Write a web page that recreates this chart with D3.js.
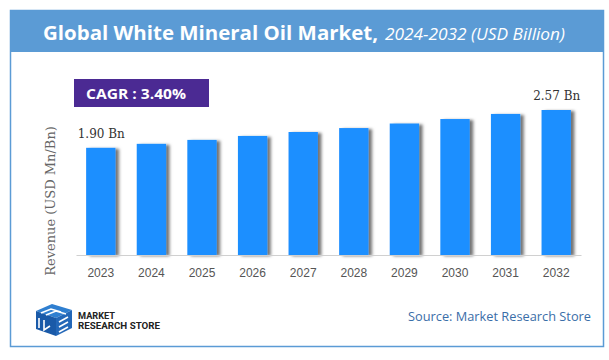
<!DOCTYPE html>
<html><head><meta charset="utf-8">
<script src="https://cdn.jsdelivr.net/npm/d3@7"></script>
<style>html,body{margin:0;padding:0;background:#fff;}svg{display:block;}</style>
</head><body>
<script>
const years = ["2023","2024","2025","2026","2027","2028","2029","2030","2031","2032"];
const values = [1.90, 1.97, 2.04, 2.11, 2.18, 2.25, 2.33, 2.41, 2.50, 2.57];
const valueLabels = ["1.90 Bn", null, null, null, null, null, null, null, null, "2.57 Bn"];
const titleMain = "Global White Mineral Oil Market,";
const titleSub = "2024-2032 (USD Billion)";
const cagrText = "CAGR : 3.40%";
const yAxisTitle = "Revenue (USD Mn/Bn)";
const sourceText = "Source: Market Research Store";

const W = 609, H = 360;
const svg = d3.select("body").append("svg").attr("width", W).attr("height", H);
const defs = svg.append("defs");
const f = defs.append("filter").attr("id","sh").attr("x","-20%").attr("y","-10%").attr("width","160%").attr("height","130%");
f.append("feDropShadow").attr("dx",3.5).attr("dy",1).attr("stdDeviation",1.6).attr("flood-color","#000").attr("flood-opacity",0.55);
const g = defs.append("linearGradient").attr("id","dash");
g.append("stop").attr("offset","0%").attr("stop-color","#f7c3a0");
g.append("stop").attr("offset","100%").attr("stop-color","#ef7d3c");

// frame
svg.append("rect").attr("x",10.5).attr("y",10.5).attr("width",593).attr("height",336)
  .attr("fill","#fff").attr("stroke","#5b9bd5").attr("stroke-width",1.5);
svg.append("rect").attr("x",10).attr("y",10).attr("width",594).attr("height",42).attr("fill","#5b9bd5");

const t = svg.append("text").attr("x",43).attr("y",40).attr("fill","#fff");
t.append("tspan").attr("font-family","'Open Sans'").attr("font-weight","bold").attr("font-size",20)
  .attr("textLength",335).attr("lengthAdjust","spacingAndGlyphs").text(titleMain);
t.append("tspan").attr("x",385).attr("font-family","'Open Sans'").attr("font-style","italic").attr("font-size",17)
  .attr("textLength",180).attr("lengthAdjust","spacingAndGlyphs").text(titleSub);

svg.append("line").attr("x1",40).attr("x2",578).attr("y1",59.5).attr("y2",59.5)
  .attr("stroke","url(#dash)").attr("stroke-width",1.2).attr("stroke-dasharray","4,2.5");

// CAGR box
svg.append("rect").attr("x",74).attr("y",79).attr("width",135).attr("height",28).attr("fill","#4b2a93");
svg.append("text").attr("x",86).attr("y",99).attr("fill","#fff").attr("font-family","'Open Sans'")
  .attr("font-weight","bold").attr("font-size",15).attr("textLength",100).attr("lengthAdjust","spacingAndGlyphs").text(cagrText);

// scales
const x = d3.scaleBand().domain(years).range([76,581]).paddingInner(0.42).paddingOuter(0.2);
const y = d3.scaleLinear().domain([0, 2.57]).range([255,110]);

const rows = years.map((yr,i)=>({year:yr, value:values[i], label:valueLabels[i]}));

svg.append("g").selectAll("rect").data(rows).join("rect")
  .attr("x",d=>x(d.year)).attr("width",x.bandwidth())
  .attr("y",d=>y(d.value)).attr("height",d=>y(0)-y(d.value))
  .attr("fill","#1e8fff").attr("filter","url(#sh)");

// axis
const ax = svg.append("g").attr("transform",`translate(0,${y(0)})`).call(d3.axisBottom(x).tickSize(0).tickPadding(13));
ax.select(".domain").attr("stroke","#d0d0d0").attr("stroke-width",1.2);
ax.selectAll("text").attr("font-family","'Liberation Sans', Arial, sans-serif").attr("font-size",12).attr("fill","#555");

// value labels
svg.append("g").selectAll("text").data(rows.filter(d=>d.label)).join("text")
  .attr("x",d=>x(d.year)+x.bandwidth()/2 + 0.5).attr("y",d=>y(d.value)-10)
  .attr("text-anchor","middle").attr("font-family","'DejaVu Serif', serif").attr("font-size",12).attr("fill","#333")
  .text(d=>d.label);

// y axis title
svg.append("text").attr("transform","translate(55,201) rotate(-90)").attr("text-anchor","middle")
  .attr("font-family","'DejaVu Serif', serif").attr("font-size",13).attr("fill","#666").text(yAxisTitle);

// logo
const lg = svg.append("g");
lg.append("polygon").attr("points","36,311 52,304 72,310 56,318").attr("fill","#2f7fd0");
lg.append("polygon").attr("points","36,311 56,318 56,336 36,329").attr("fill","#1a5aa8");
lg.append("polygon").attr("points","56,318 72,310 72,328 56,336").attr("fill","#2468b8");
lg.append("path").attr("d","M41,313 L51,309 L61,312 M46,315 L56,311 L66,314 M39,318 L39,328 M44,320 L44,330 L50,326 M59,322 L68,317 M59,327 L68,322 M59,332 L68,327")
  .attr("stroke","#fff").attr("stroke-width",1.6).attr("fill","none");
svg.append("text").attr("x",78).attr("y",319).attr("font-family","Roboto").attr("font-weight","bold").attr("font-size",9.5)
  .attr("fill","#222").attr("textLength",37).attr("lengthAdjust","spacingAndGlyphs").text("MARKET");
svg.append("text").attr("x",78).attr("y",329).attr("font-family","Roboto").attr("font-weight","bold").attr("font-size",9.5)
  .attr("fill","#222").attr("textLength",82).attr("lengthAdjust","spacingAndGlyphs").text("RESEARCH STORE");

// source
svg.append("text").attr("x",408).attr("y",321).attr("font-family","'Open Sans'").attr("font-size",12.5)
  .attr("fill","#3a6ea8").attr("textLength",183).attr("lengthAdjust","spacingAndGlyphs").text(sourceText);
</script>
</body></html>
